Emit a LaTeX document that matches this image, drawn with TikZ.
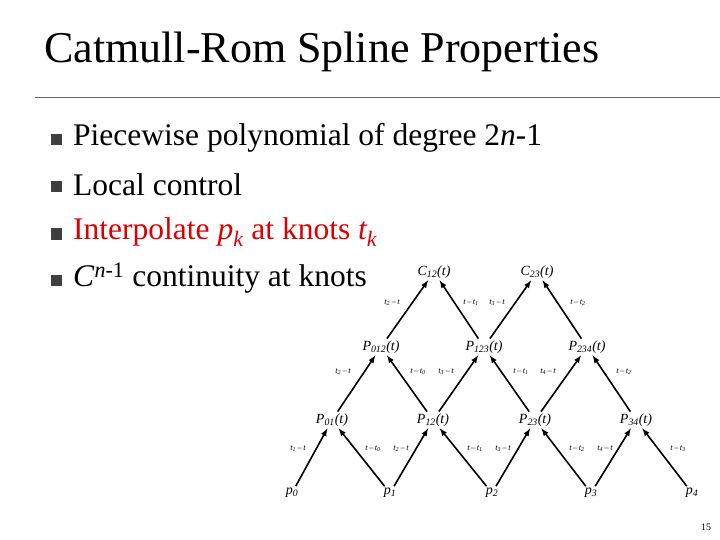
\documentclass[tikz,border=0pt]{standalone}
\usepackage{fontspec}
\setmainfont{Liberation Serif}
\begin{document}
\begin{tikzpicture}[x=1pt,y=-1pt,
  lab/.style={font=\fontsize{14}{14}\selectfont\itshape, inner sep=1pt},
  wt/.style={font=\fontsize{8.5}{8.5}\selectfont\itshape, inner sep=0pt},
  ar/.style={-latex, line width=1.6pt, shorten <=1pt, shorten >=1pt},
  bul/.style={font=\fontsize{31.5}{31.5}\selectfont, anchor=west, inner sep=0pt},
  sq/.style={fill=black!75, minimum size=11pt, inner sep=0pt}]
\useasboundingbox (0,0) rectangle (720,540);
\node[anchor=west, font=\fontsize{44}{44}\selectfont, inner sep=0pt] (title) at (44,52) {Catmull-Rom Spline Properties};
\draw[black!60, line width=0.8pt] (35,97) -- (720,97);
\node[sq] (b1) at (56,140) {}; \node[bul] (t1) at (73,138) {Piecewise polynomial of degree 2\textit{n}-1};
\node[sq] (b2) at (56,187) {}; \node[bul] (t2) at (73,185) {Local control};
\node[sq] (b3) at (56,234) {}; \node[bul, text={rgb,255:red,220;green,0;blue,0}] (t3) at (73,232) {Interpolate \textit{p\textsubscript{k}} at knots \textit{t\textsubscript{k}}};
\node[sq] (b4) at (56,280) {}; \node[bul] (t4) at (73,278) {\textit{C}\textsuperscript{\textit{n}-1} continuity at knots};
% nodes
\node[lab] (p0) at (292,493) {p\textsubscript{0}};
\node[lab] (p1) at (390,493) {p\textsubscript{1}};
\node[lab] (p2) at (492,493) {p\textsubscript{2}};
\node[lab] (p3) at (591,493) {p\textsubscript{3}};
\node[lab] (p4) at (692,493) {p\textsubscript{4}};
\node[lab] (P01) at (332,420) {P\textsubscript{01}(t)};
\node[lab] (P12) at (433,420) {P\textsubscript{12}(t)};
\node[lab] (P23) at (535,420) {P\textsubscript{23}(t)};
\node[lab] (P34) at (636,420) {P\textsubscript{34}(t)};
\node[lab] (P012) at (381,347) {P\textsubscript{012}(t)};
\node[lab] (P123) at (484,347) {P\textsubscript{123}(t)};
\node[lab] (P234) at (587,347) {P\textsubscript{234}(t)};
\node[lab] (C12) at (434,272) {C\textsubscript{12}(t)};
\node[lab] (C23) at (537,272) {C\textsubscript{23}(t)};
% arrows
\draw[ar] (p0) -- (P01); \draw[ar] (p1) -- (P01);
\draw[ar] (p1) -- (P12); \draw[ar] (p2) -- (P12);
\draw[ar] (p2) -- (P23); \draw[ar] (p3) -- (P23);
\draw[ar] (p3) -- (P34); \draw[ar] (p4) -- (P34);
\draw[ar] (P01) -- (P012); \draw[ar] (P12) -- (P012);
\draw[ar] (P12) -- (P123); \draw[ar] (P23) -- (P123);
\draw[ar] (P23) -- (P234); \draw[ar] (P34) -- (P234);
\draw[ar] (P012) -- (C12); \draw[ar] (P123) -- (C12);
\draw[ar] (P123) -- (C23); \draw[ar] (P234) -- (C23);
% weights
\node[wt] (w1) at (298,449) {t\textsubscript{1}\,--\,t};
\node[wt] (w2) at (373,449) {t\,--\,t\textsubscript{0}};
\node[wt] (w3) at (401,449) {t\textsubscript{2}\,--\,t};
\node[wt] (w4) at (475,449) {t\,--\,t\textsubscript{1}};
\node[wt] (w5) at (503,449) {t\textsubscript{3}\,--\,t};
\node[wt] (w6) at (577,449) {t\,--\,t\textsubscript{2}};
\node[wt] (w7) at (605,449) {t\textsubscript{4}\,--\,t};
\node[wt] (w8) at (678,449) {t\,--\,t\textsubscript{3}};
\node[wt] (m1) at (343,372) {t\textsubscript{2}\,--\,t};
\node[wt] (m2) at (418,372) {t\,--\,t\textsubscript{0}};
\node[wt] (m3) at (446,372) {t\textsubscript{3}\,--\,t};
\node[wt] (m4) at (521,372) {t\,--\,t\textsubscript{1}};
\node[wt] (m5) at (548,372) {t\textsubscript{4}\,--\,t};
\node[wt] (m6) at (624,372) {t\,--\,t\textsubscript{2}};
\node[wt] (u1) at (392,303) {t\textsubscript{2}\,--\,t};
\node[wt] (u2) at (471,303) {t\,--\,t\textsubscript{1}};
\node[wt] (u3) at (497,303) {t\textsubscript{3}\,--\,t};
\node[wt] (u4) at (578,303) {t\,--\,t\textsubscript{2}};
\node[font=\fontsize{10}{10}\selectfont, inner sep=0pt] (pg) at (706,527) {15};
\end{tikzpicture}
\end{document}
